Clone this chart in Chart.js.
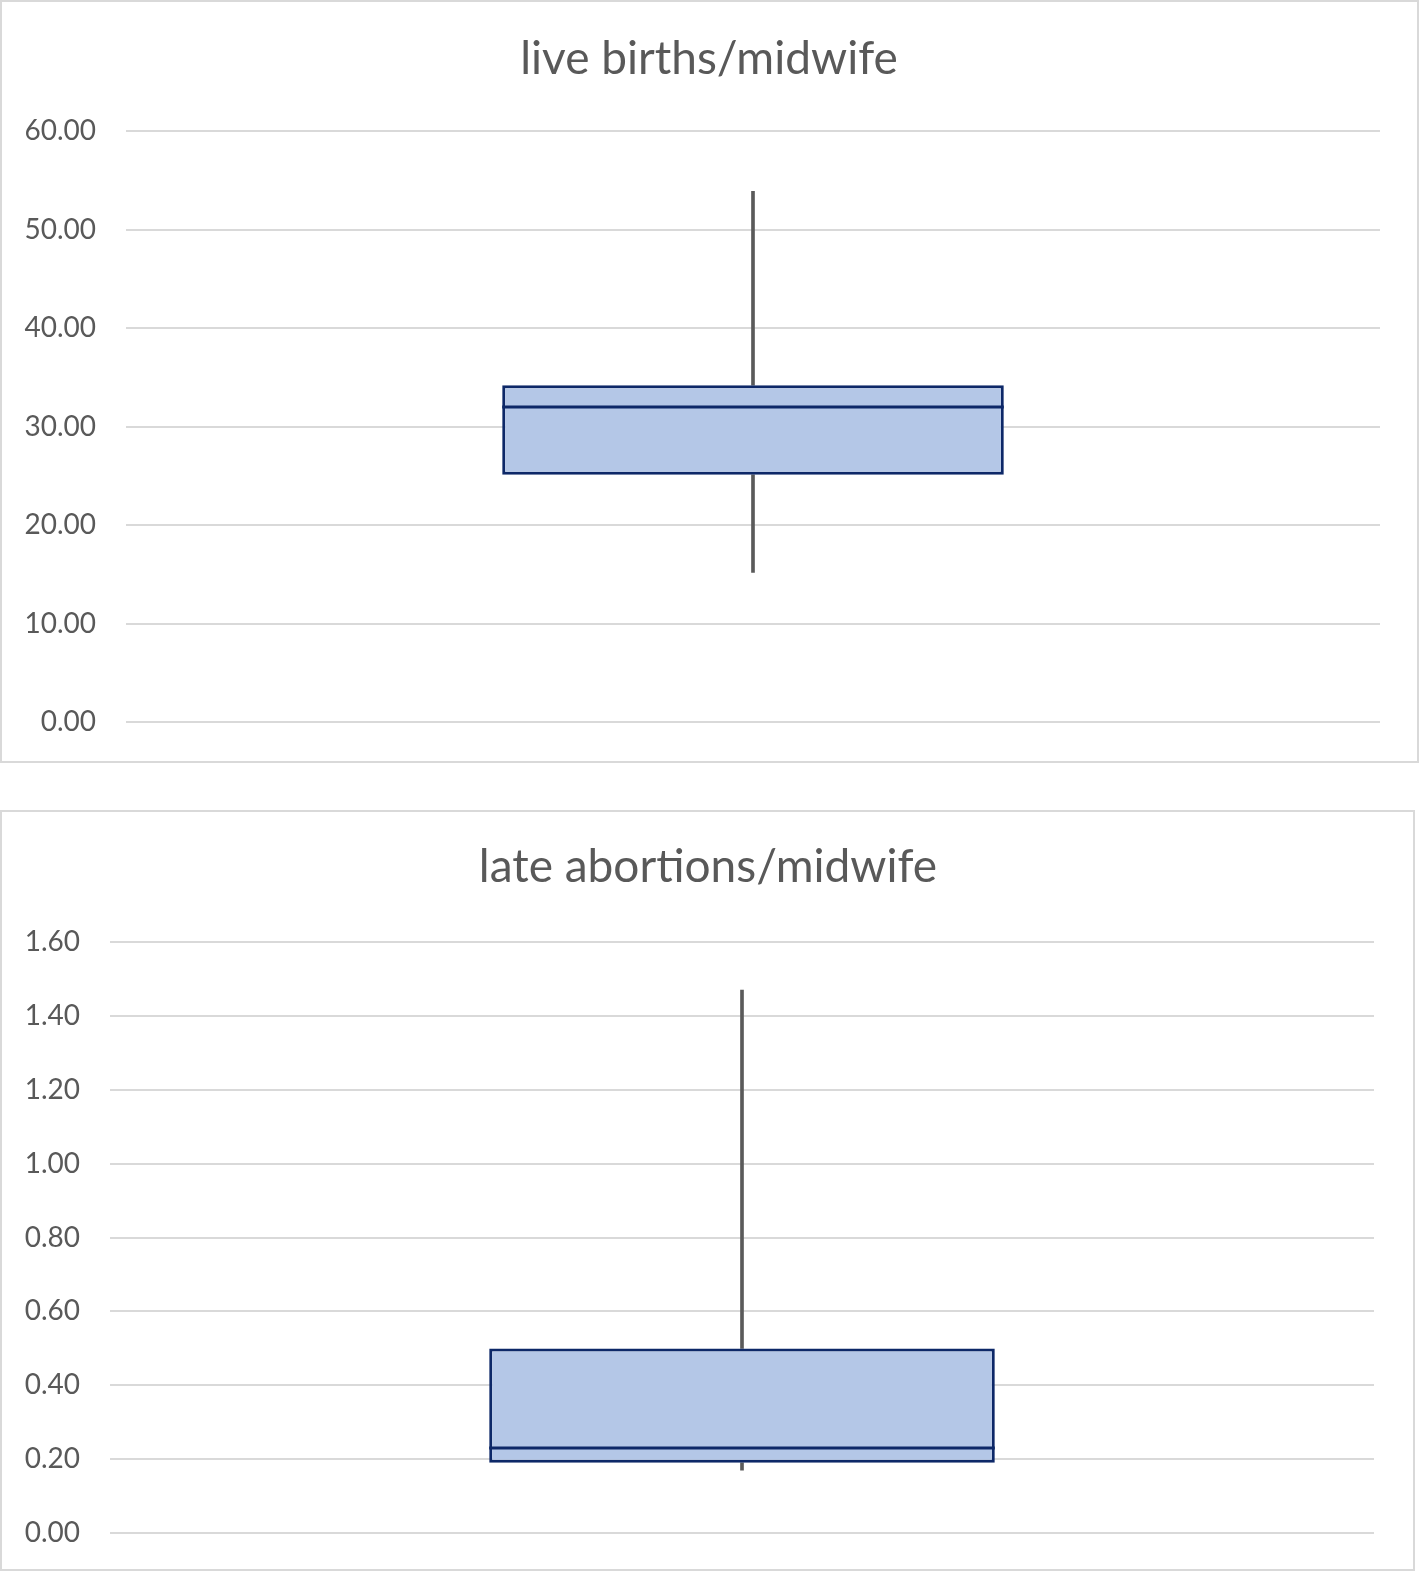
<!DOCTYPE html>
<html>
<head>
<meta charset="utf-8">
<script src="https://cdn.jsdelivr.net/npm/chart.js@4/dist/chart.umd.min.js"></script>
<style>
  html, body { margin: 0; padding: 0; background: #fff; overflow: hidden; }
  body { width: 1420px; height: 1573px; position: relative; }
  .frame { position: absolute; box-sizing: border-box; border: 2px solid #d9d9d9; }
  .wrap { position: absolute; left: 0; width: 1420px; height: 790px; }
</style>
</head>
<body>
<div class="frame" style="left:0;top:0;width:1419px;height:763px;"></div>
<div class="frame" style="left:0;top:810px;width:1415px;height:761px;"></div>
<div class="wrap" style="top:0;"><canvas id="birthsChart"></canvas></div>
<div class="wrap" style="top:790px;"><canvas id="abortionsChart"></canvas></div>
<script>
// box plot values: min, q1, median, q3, max
const statNames = ['min', 'q1', 'median', 'q3', 'max'];
const birthsTitle = 'live births/midwife';
const birthsValues = [15.2, 25.1, 32.0, 34.2, 53.9];
const birthsTicks = [0, 10, 20, 30, 40, 50, 60];

const abortionsTitle = 'late abortions/midwife';
const abortionsValues = [0.17, 0.19, 0.23, 0.50, 1.47];
const abortionsTicks = [0, 0.2, 0.4, 0.6, 0.8, 1.0, 1.2, 1.4, 1.6];

const textColor = '#595959';
const gridColor = '#d9d9d9';
const boxFill = '#b4c7e7';
const boxLine = '#0d2868';
const whiskerColor = '#5a5a5a';

// draws the median line across the box using the y scale
const medianLine = {
    id: 'medianLine',
    afterDatasetsDraw(chart) {
        const bar = chart.getDatasetMeta(0).data[0];
        const y = chart.scales.y.getPixelForValue(chart.$median);
        const ctx = chart.ctx;
        ctx.save();
        ctx.strokeStyle = boxLine;
        ctx.lineWidth = 3;
        ctx.beginPath();
        ctx.moveTo(bar.x - bar.width / 2, y);
        ctx.lineTo(bar.x + bar.width / 2, y);
        ctx.stroke();
        ctx.restore();
    }
};

function makeBoxPlot(canvasId, title, values, ticks, opts) {
    const v = {};
    statNames.forEach((n, i) => v[n] = values[i]);

    const chart = new Chart(document.getElementById(canvasId), {
        type: 'bar',
        data: {
            labels: [title],
            datasets: [
                {
                    // the box from q1 to q3
                    data: [[v.q1, v.q3]],
                    backgroundColor: boxFill,
                    borderColor: boxLine,
                    borderWidth: 3,
                    borderSkipped: false,
                    barPercentage: 0.4,
                    categoryPercentage: 1,
                    grouped: false
                },
                {
                    // lower whisker
                    data: [[v.min, v.q1]],
                    backgroundColor: whiskerColor,
                    barThickness: 3,
                    grouped: false
                },
                {
                    // upper whisker
                    data: [[v.q3, v.max]],
                    backgroundColor: whiskerColor,
                    barThickness: 3,
                    grouped: false
                }
            ]
        },
        options: {
            responsive: true,
            maintainAspectRatio: false,
            animation: false,
            layout: {
                padding: { top: 0, left: 0, right: opts.padRight, bottom: opts.padBottom }
            },
            plugins: {
                legend: { display: false },
                tooltip: { enabled: false },
                title: {
                    display: true,
                    text: title,
                    color: textColor,
                    font: { family: 'Lato', size: 46, weight: 'normal', lineHeight: 1.2 },
                    padding: { top: opts.titleTop, bottom: opts.titleBottom }
                }
            },
            scales: {
                x: { display: false },
                y: {
                    min: ticks[0],
                    max: ticks[ticks.length - 1],
                    afterBuildTicks: function(scale) {
                        scale.ticks = ticks.map(t => ({ value: t }));
                    },
                    afterFit: function(scale) {
                        scale.width = opts.axisWidth;
                    },
                    border: { display: false },
                    grid: { color: gridColor, lineWidth: 2, drawTicks: false },
                    ticks: {
                        color: textColor,
                        padding: 30,
                        font: { family: 'Lato', size: 28 },
                        callback: function(value) {
                            return Number(value).toFixed(2);
                        }
                    }
                },
                // empty right axis, only keeps space so the title sits where it does in the original
                yRight: {
                    position: 'right',
                    min: ticks[0],
                    max: ticks[ticks.length - 1],
                    border: { display: false },
                    grid: { display: false },
                    ticks: { display: false },
                    afterFit: function(scale) {
                        scale.width = opts.rightWidth;
                    }
                }
            }
        },
        plugins: [medianLine]
    });
    chart.$median = v.median;
    chart.draw();
    return chart;
}

makeBoxPlot('birthsChart', birthsTitle, birthsValues, birthsTicks, {
    axisWidth: 126, rightWidth: 38, padRight: 2, padBottom: 68, titleTop: 32, titleBottom: 44
});
makeBoxPlot('abortionsChart', abortionsTitle, abortionsValues, abortionsTicks, {
    axisWidth: 110, rightWidth: 42, padRight: 4, padBottom: 47, titleTop: 50, titleBottom: 47
});
</script>
</body>
</html>
